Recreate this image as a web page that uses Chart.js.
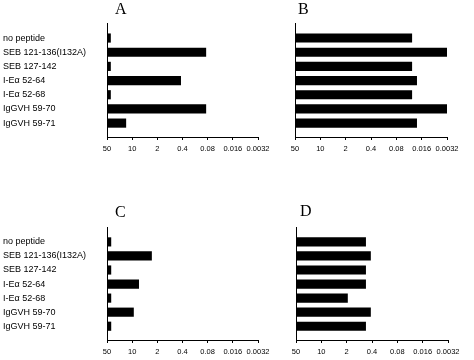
<!DOCTYPE html>
<html>
<head>
<meta charset="utf-8">
<script src="https://cdn.jsdelivr.net/npm/chart.js@4"></script>
<style>
  body { margin: 0; background: #fff; }
  #wrap { position: relative; width: 474px; height: 360px; overflow: hidden; background: #fff; }
  canvas { position: absolute; left: 0; }
  .letra { position: absolute; font-family: "Liberation Serif", "Times New Roman", serif; font-size: 16px; line-height: 16px; color: #000; }
</style>
</head>
<body>
<div id="wrap">
  <canvas id="chartA" width="474" height="180" style="top:0"></canvas>
  <canvas id="chartB" width="474" height="180" style="top:0"></canvas>
  <canvas id="chartC" width="474" height="180" style="top:180px"></canvas>
  <canvas id="chartD" width="474" height="180" style="top:180px"></canvas>
  <div class="letra" style="left:115px; top:1px">A</div>
  <div class="letra" style="left:298px; top:1px">B</div>
  <div class="letra" style="left:115px; top:204px">C</div>
  <div class="letra" style="left:300px; top:203px">D</div>
</div>
<script>
// Categorías (eje y)
const categorias = ["no peptide", "SEB 121-136(I132A)", "SEB 127-142", "I-Eα 52-64", "I-Eα 52-68", "IgGVH 59-70", "IgGVH 59-71"];

// Ticks del eje x (escala log, invertida)
const ticksX = [50, 10, 2, 0.4, 0.08, 0.016, 0.0032];
const ticksXLabels = ["50", "10", "2", "0.4", "0.08", "0.016", "0.0032"];

const valoresA = [40, 0.09, 40, 0.45, 40, 0.09, 15];
const valoresB = [0.03, 0.0032, 0.03, 0.022, 0.03, 0.0032, 0.022];
const valoresC = [39, 2.9, 39, 6.6, 39, 9.2, 39];
const valoresD = [0.6, 0.44, 0.6, 0.6, 1.9, 0.44, 0.6];

// Rango del eje y (indices de categoria)
const yMin = -1.06;
const yMax = 6.98;

function crearPanel(id, valores, conEtiquetas, padding) {
    var ctx = document.getElementById(id).getContext("2d");
    var xMax = ticksX[0];
    var xMin = ticksX[ticksX.length - 1];
    new Chart(ctx, {
        type: "bar",
        data: {
            datasets: [{
                data: valores.map((v, i) => ({ y: i, x: [xMax, v] })),
                backgroundColor: "#000",
                barThickness: 8.5
            }]
        },
        options: {
            indexAxis: "y",
            responsive: false,
            animation: false,
            devicePixelRatio: 1,
            layout: { padding: padding },
            plugins: { legend: { display: false }, tooltip: { enabled: false } },
            scales: {
                x: {
                    type: "logarithmic",
                    reverse: true,
                    min: xMin,
                    max: xMax,
                    afterBuildTicks: (s) => { s.ticks = ticksX.map(v => ({ value: v })); },
                    afterFit: (s) => { s.height = 20; },
                    grid: { display: true, drawOnChartArea: false, tickLength: 3, color: "#000" },
                    border: { display: true, color: "#000", width: 1 },
                    ticks: {
                        autoSkip: false,
                        maxRotation: 0,
                        padding: 4,
                        color: "#000",
                        font: { family: "Arial, 'Liberation Sans'", size: 7.5 },
                        callback: (v, i) => ticksXLabels[i]
                    }
                },
                y: {
                    type: "linear",
                    reverse: true,
                    offset: false,
                    bounds: "data",
                    min: yMin,
                    max: yMax,
                    afterBuildTicks: (s) => {
                        s.ticks = categorias.map((c, i) => ({ value: i }));
                        s.min = yMin;
                        s.max = yMax;
                    },
                    afterFit: (s) => { s.width = conEtiquetas ? 104 : 0; },
                    grid: { display: false, offset: false },
                    border: { display: true, color: "#000", width: 1 },
                    ticks: {
                        display: conEtiquetas,
                        crossAlign: "far",
                        autoSkip: false,
                        color: "#000",
                        font: { family: "Arial, 'Liberation Sans'", size: 9 },
                        callback: (v) => categorias[v]
                    }
                }
            }
        }
    });
}

crearPanel("chartA", valoresA, true, { left: 3, top: 23, right: 216, bottom: 23 });
crearPanel("chartB", valoresB, false, { left: 295, top: 23, right: 27, bottom: 23 });
crearPanel("chartC", valoresC, true, { left: 3, top: 47, right: 216, bottom: 0 });
crearPanel("chartD", valoresD, false, { left: 296, top: 47, right: 26, bottom: 0 });
</script>
</body>
</html>
